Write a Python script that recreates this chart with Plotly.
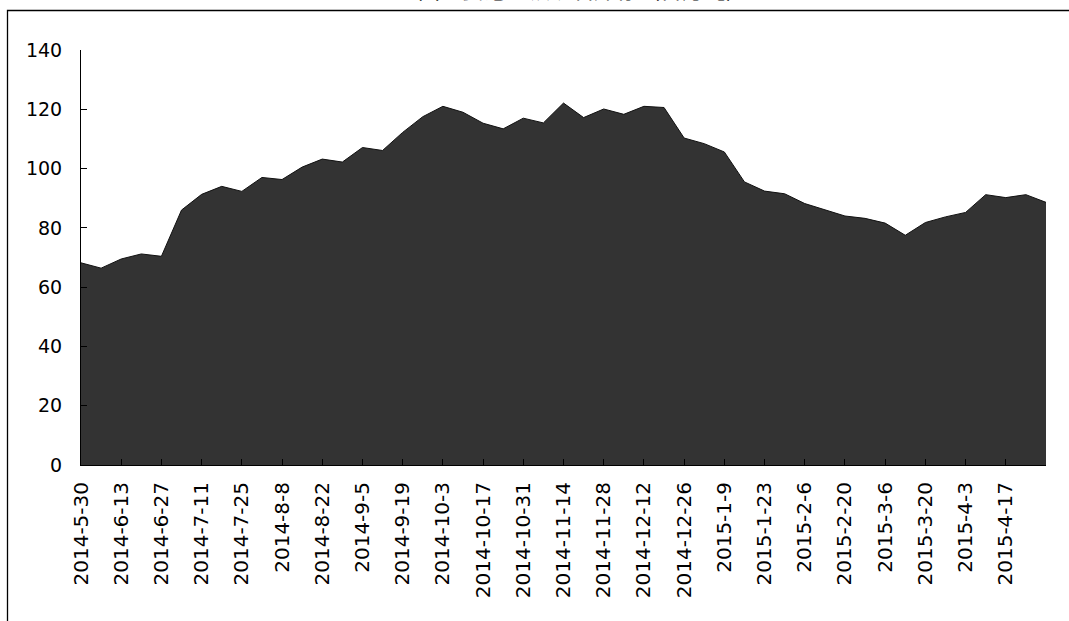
import plotly.graph_objects as go

categories = [
    "2014-5-30", "2014-6-6", "2014-6-13", "2014-6-20", "2014-6-27", "2014-7-4",
    "2014-7-11", "2014-7-18", "2014-7-25", "2014-8-1", "2014-8-8", "2014-8-15",
    "2014-8-22", "2014-8-29", "2014-9-5", "2014-9-12", "2014-9-19", "2014-9-26",
    "2014-10-3", "2014-10-10", "2014-10-17", "2014-10-24", "2014-10-31", "2014-11-7",
    "2014-11-14", "2014-11-21", "2014-11-28", "2014-12-5", "2014-12-12", "2014-12-19",
    "2014-12-26", "2015-1-2", "2015-1-9", "2015-1-16", "2015-1-23", "2015-1-30",
    "2015-2-6", "2015-2-13", "2015-2-20", "2015-2-27", "2015-3-6", "2015-3-13",
    "2015-3-20", "2015-3-27", "2015-4-3", "2015-4-10", "2015-4-17", "2015-4-24",
    "2015-5-1",
]

values = [
    68.2, 66.4, 69.5, 71.2, 70.4, 86.0,
    91.3, 94.0, 92.3, 97.0, 96.3, 100.5,
    103.2, 102.2, 107.1, 106.1, 112.2, 117.5,
    121.0, 119.0, 115.3, 113.4, 117.0, 115.4,
    122.1, 117.2, 120.1, 118.3, 121.0, 120.6,
    110.3, 108.4, 105.6, 95.5, 92.4, 91.5,
    88.2, 86.1, 84.0, 83.2, 81.6, 77.5,
    81.8, 83.7, 85.2, 91.2, 90.2, 91.2,
    88.6,
]

tick_labels = [
    "2014-5-30", "2014-6-13", "2014-6-27", "2014-7-11", "2014-7-25", "2014-8-8",
    "2014-8-22", "2014-9-5", "2014-9-19", "2014-10-3", "2014-10-17", "2014-10-31",
    "2014-11-14", "2014-11-28", "2014-12-12", "2014-12-26", "2015-1-9", "2015-1-23",
    "2015-2-6", "2015-2-20", "2015-3-6", "2015-3-20", "2015-4-3", "2015-4-17",
]

y_ticks = [0, 20, 40, 60, 80, 100, 120, 140]

title_text = "全国主要港口铁矿石库存（百万吨）"

W, H = 1069, 621
ML, MR, MT, MB = 81, 23, 50, 156
PW = W - ML - MR
PH = H - MT - MB


def px_to_paper_x(px):
    return (px - ML) / PW


def px_to_paper_y(py):
    return (H - MB - py) / PH


fig = go.Figure()
fig.add_trace(go.Scatter(
    x=categories,
    y=values,
    mode="lines",
    fill="tozeroy",
    fillcolor="#333333",
    line=dict(color="#111111", width=1),
    hoverinfo="x+y",
    showlegend=False,
))

font_x = dict(family="DejaVu Sans", size=20, color="#000000")
font_y = dict(family="DejaVu Sans", size=19, color="#000000")

fig.update_layout(
    width=W,
    height=H,
    margin=dict(l=ML, r=MR, t=MT, b=MB, pad=0),
    paper_bgcolor="white",
    plot_bgcolor="white",
    font=font_y,
    showlegend=False,
    xaxis=dict(
        type="category",
        range=[0, len(categories) - 1],
        tickmode="array",
        tickvals=tick_labels,
        ticktext=tick_labels,
        tickangle=-90,
        ticks="inside",
        ticklen=6,
        tickcolor="#000000",
        tickwidth=1,
        showline=True,
        linecolor="#000000",
        linewidth=1,
        showgrid=False,
        zeroline=False,
        tickfont=font_x,
        ticklabelstandoff=8,
    ),
    yaxis=dict(
        range=[0, 140],
        tickmode="array",
        tickvals=y_ticks,
        ticktext=[str(v) for v in y_ticks],
        ticks="inside",
        ticklen=6,
        tickcolor="#000000",
        tickwidth=1,
        showline=True,
        linecolor="#000000",
        linewidth=1,
        showgrid=False,
        zeroline=False,
        tickfont=font_y,
        ticklabelstandoff=14,
    ),
    shapes=[
        dict(
            type="path",
            xref="paper",
            yref="paper",
            path="M {x0},{y0} L {x0},{y1} L {x2},{y1}".format(
                x0=px_to_paper_x(7.5),
                y0=px_to_paper_y(H + 5),
                y1=px_to_paper_y(10.5),
                x2=px_to_paper_x(W + 5),
            ),
            line=dict(color="#000000", width=1.3),
        )
    ],
    annotations=[
        dict(
            text=title_text,
            xref="paper",
            yref="paper",
            x=px_to_paper_x(572),
            y=px_to_paper_y(6),
            xanchor="center",
            yanchor="bottom",
            showarrow=False,
            font=dict(family="Noto Sans CJK SC", size=22, color="#000000"),
        )
    ],
)

fig.write_html(
    "out.html",
    config={"displayModeBar": False},
    post_script="document.body.style.margin='0px';document.body.style.overflow='hidden';",
)
